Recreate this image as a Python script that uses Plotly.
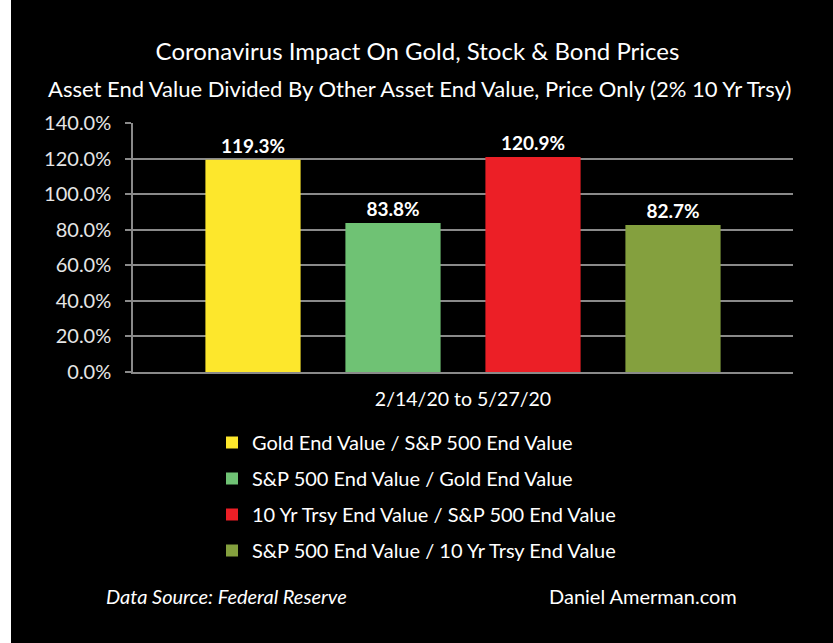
import plotly.graph_objects as go

period = ["2/14/20 to 5/27/20"]
series_names = [
    "Gold End Value / S&P 500 End Value",
    "S&P 500 End Value / Gold End Value",
    "10 Yr Trsy End Value / S&P 500 End Value",
    "S&P 500 End Value / 10 Yr Trsy End Value",
]
series_values = [119.3, 83.8, 120.9, 82.7]
series_colors = ["#fde72c", "#6fc274", "#ec1f26", "#84a03e"]
y_ticks = [0, 20, 40, 60, 80, 100, 120, 140]

W, H = 833, 643
L, R, T, B = 133, 40, 123, 271
pw, ph = W - L - R, H - T - B

def px_x(x):
    return (x - L) / pw

def px_y(y):
    return (H - B - y) / ph

fig = go.Figure()
for i, (name, val, col) in enumerate(zip(series_names, series_values, series_colors)):
    fig.add_trace(go.Bar(
        x=period, y=[val], name=name, marker=dict(color=col, line=dict(width=0)),
        text=[f"{val:.1f}%"], textposition="outside",
        textfont=dict(family="Lato", size=19, color="white", weight="bold"),
        legendgroup=f"g{i}", cliponaxis=False,
    ))

fig.update_layout(
    width=W, height=H,
    margin=dict(l=L, r=R, t=T, b=B),
    paper_bgcolor="black", plot_bgcolor="black",
    barmode="group", bargap=0.1515, bargroupgap=0.32,
    title=dict(text="Coronavirus Impact On Gold, Stock & Bond Prices",
               x=px_x(417.5), xref="paper", xanchor="center",
               y=1 - 52 / H, yanchor="middle",
               font=dict(family="Lato", size=24, color="white")),
    showlegend=True,
    legend=dict(x=px_x(212), y=px_y(423), xanchor="left", yanchor="top",
                orientation="v", traceorder="grouped", tracegroupgap=7,
                font=dict(family="Lato", size=20, color="white"),
                bgcolor="rgba(0,0,0,0)"),
    xaxis=dict(showgrid=False, showline=True, linecolor="#8a8a8a", linewidth=1.5,
               ticks="", tickfont=dict(family="Lato", size=19.5, color="white"),
               ticklabelstandoff=9),
    yaxis=dict(range=[0, 140], tickvals=y_ticks,
               ticktext=[f"{v:.1f}%" for v in y_ticks],
               showgrid=True, gridcolor="#8a8a8a", gridwidth=1.5,
               showline=True, linecolor="#8a8a8a", linewidth=1.5,
               ticks="outside", ticklen=6, tickcolor="#8a8a8a", tickwidth=1.5,
               tickfont=dict(family="Lato", size=20, color="#e6e6e6"),
               ticklabelstandoff=10, zeroline=False),
    annotations=[
        dict(text="Asset End Value Divided By Other Asset End Value, Price Only (2% 10 Yr Trsy)",
             x=px_x(419.5), y=px_y(88), xref="paper", yref="paper", showarrow=False,
             xanchor="center", yanchor="middle",
             font=dict(family="Lato", size=22, color="white")),
        dict(text="<i>Data Source: Federal Reserve</i>",
             x=px_x(226.5), y=px_y(596), xref="paper", yref="paper", showarrow=False,
             xanchor="center", yanchor="middle",
             font=dict(family="Lato", size=20, color="white")),
        dict(text="Daniel Amerman.com",
             x=px_x(643), y=px_y(596), xref="paper", yref="paper", showarrow=False,
             xanchor="center", yanchor="middle",
             font=dict(family="Lato", size=20, color="white")),
    ],
    shapes=[
        dict(type="rect", xref="paper", yref="paper",
             x0=px_x(0), x1=px_x(11), y0=px_y(H), y1=px_y(0),
             fillcolor="white", line=dict(width=0), layer="below"),
    ],
)

fig.write_html("out.html", config={"displayModeBar": False},
               post_script="document.body.style.margin='0';")
